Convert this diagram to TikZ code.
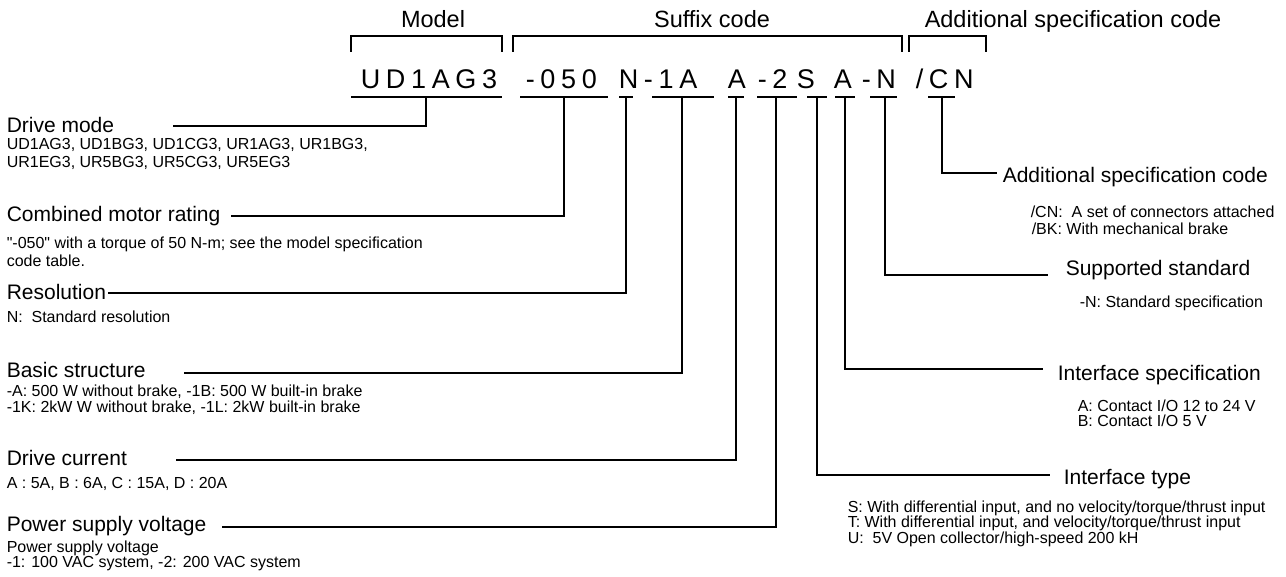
\documentclass[tikz,border=0pt]{standalone}
\usepackage{fontspec}
\setmainfont{Liberation Sans}[Ligatures=TeXOff]
\begin{document}
\begin{tikzpicture}[x=1pt,y=-1pt,line width=1.5pt,
  title/.style={font=\fontsize{23.5}{28}\selectfont,anchor=base,inner sep=0pt},
  codegrp/.style={font=\fontsize{27}{32}\selectfont\addfontfeature{LetterSpace=21},anchor=base west,inner sep=0pt},
  lbl/.style={font=\fontsize{21}{25}\selectfont,anchor=base west,inner sep=0pt},
  sub/.style={font=\fontsize{16}{18}\selectfont,anchor=base west,inner sep=0pt},
  conn/.style={line width=1.5pt}]
\useasboundingbox (0,0) rectangle (1286,577);

% titles
\node[title] (tModel) at (433,28) {Model};
\node[title] (tSuffix) at (712,28) {Suffix code};
\node[title,anchor=base west] (tAdd) at (924,28) {Additional specification code};

% brackets
\draw (351,52) |- (502,36) -- (502,52);
\draw (513,52) |- (902,36) -- (902,52);
\draw (909,52) |- (986,36) -- (986,52);

% code groups
\node[codegrp] (g1) at (360,89) {UD1AG3};
\node[codegrp] (g2) at (525,89) {-050};
\node[codegrp] (g3) at (618,89) {N-1A};
\node[codegrp] (g4) at (727,89) {A};
\node[codegrp] (g5) at (757,89) {-2};
\node[codegrp] (g6) at (796,89) {S};
\node[codegrp] (g7) at (833,89) {A};
\node[codegrp] (g8) at (861,89) {-N};
\node[codegrp] (g9) at (915,89) {/CN};

% underlines
\foreach \a/\b [count=\i] in {351/502,520/608,619/633,652/714,728/744,757/797,807/827,835/855,870/897,928/955}
  {\coordinate (ua\i) at (\a,97); \coordinate (ub\i) at (\b,97); \draw (ua\i) -- (ub\i);}

% tick tops
\coordinate (t1) at (426,97);
\coordinate (t2) at (564,97);
\coordinate (t3) at (626,97);
\coordinate (t4) at (682,97);
\coordinate (t5) at (736,97);
\coordinate (t6) at (776,97);
\coordinate (t7) at (817,97);
\coordinate (t8) at (845,97);
\coordinate (t9) at (885,97);
\coordinate (t10) at (942,97);

% left labels
\node[lbl] (lDrive) at (6,133) {Drive mode};
\node[sub] (sDrive1) at (6,150) {UD1AG3, UD1BG3, UD1CG3, UR1AG3, UR1BG3,};
\node[sub] (sDrive2) at (6,168) {UR1EG3, UR5BG3, UR5CG3, UR5EG3};

\node[lbl] (lComb) at (6,222) {Combined motor rating};
\node[sub] (sComb1) at (6,249) {"-050" with a torque of 50 N-m; see the model specification};
\node[sub] (sComb2) at (6,267) {code table.};

\node[lbl] (lRes) at (6,300) {Resolution};
\node[sub] (sRes) at (6,323) {N:~ Standard resolution};

\node[lbl] (lBasic) at (6,378) {Basic structure};
\node[sub] (sBasic1) at (6,397) {-A: 500 W without brake, -1B: 500 W built-in brake};
\node[sub] (sBasic2) at (6,413) {-1K: 2kW W without brake, -1L: 2kW built-in brake};

\node[lbl] (lCur) at (6,465) {Drive current};
\node[sub] (sCur) at (6,488) {A : 5A, B : 6A, C : 15A, D : 20A};

\node[lbl] (lPow) at (6,531) {Power supply voltage};
\node[sub] (sPow1) at (6,552) {Power supply voltage};
\node[sub] (sPow2) at (6,567) {-1: 100 VAC system, -2: 200 VAC system};

% right labels
\node[lbl] (rAdd) at (1002,183) {Additional specification code};
\node[sub] (sAdd1) at (1030,218) {/CN:~ A set of connectors attached};
\node[sub] (sAdd2) at (1031,235) {/BK: With mechanical brake};

\node[lbl] (rStd) at (1065,276) {Supported standard};
\node[sub] (sStd) at (1079,308) {-N: Standard specification};

\node[lbl] (rIfs) at (1057,381) {Interface specification};
\node[sub] (sIfs1) at (1077,412) {A: Contact I/O 12 to 24 V};
\node[sub] (sIfs2) at (1077,427) {B: Contact I/O 5 V};

\node[lbl] (rIft) at (1063,484) {Interface type};
\node[sub] (sIft1) at (847,512) {S: With differential input, and no velocity/torque/thrust input};
\node[sub] (sIft2) at (847,527) {T: With differential input, and velocity/torque/thrust input};
\node[sub] (sIft3) at (847,543) {U:~ 5V Open collector/high-speed 200 kH};

% connector ends
\coordinate (e1) at (173,126);
\coordinate (e2) at (231,216);
\coordinate (e3) at (108,293);
\coordinate (e4) at (184,373);
\coordinate (e5) at (176,460);
\coordinate (e6) at (222,527);
\coordinate (e10) at (997,173);
\coordinate (e9) at (1048,275);
\coordinate (e8) at (1043,369);
\coordinate (e7) at (1050,475);

\foreach \i in {1,...,10} {\draw[conn] (t\i) |- (e\i);}
\end{tikzpicture}
\end{document}
